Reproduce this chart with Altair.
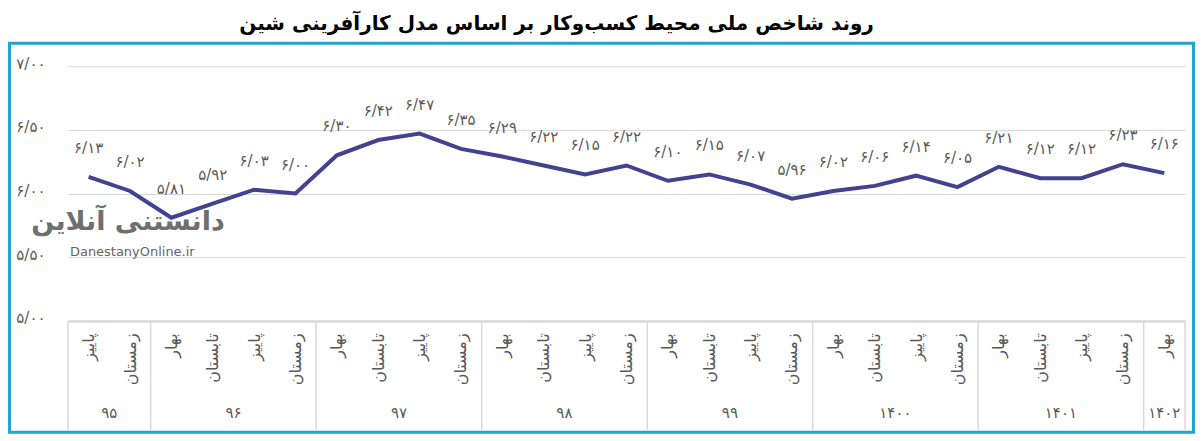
import altair as alt
import pandas as pd

title_text = "روند شاخص ملی محیط کسب\u200cوکار بر اساس مدل کارآفرینی شین"

seasons = [
    "پاییز", "زمستان",
    "بهار", "تابستان", "پاییز", "زمستان",
    "بهار", "تابستان", "پاییز", "زمستان",
    "بهار", "تابستان", "پاییز", "زمستان",
    "بهار", "تابستان", "پاییز", "زمستان",
    "بهار", "تابستان", "پاییز", "زمستان",
    "بهار", "تابستان", "پاییز", "زمستان",
    "بهار",
]
years = [
    "۹۵", "۹۵",
    "۹۶", "۹۶", "۹۶", "۹۶",
    "۹۷", "۹۷", "۹۷", "۹۷",
    "۹۸", "۹۸", "۹۸", "۹۸",
    "۹۹", "۹۹", "۹۹", "۹۹",
    "۱۴۰۰", "۱۴۰۰", "۱۴۰۰", "۱۴۰۰",
    "۱۴۰۱", "۱۴۰۱", "۱۴۰۱", "۱۴۰۱",
    "۱۴۰۲",
]
values = [
    6.13, 6.02,
    5.81, 5.92, 6.03, 6.00,
    6.30, 6.42, 6.47, 6.35,
    6.29, 6.22, 6.15, 6.22,
    6.10, 6.15, 6.07, 5.96,
    6.02, 6.06, 6.14, 6.05,
    6.21, 6.12, 6.12, 6.23,
    6.16,
]
y_ticks = [5.0, 5.5, 6.0, 6.5, 7.0]
y_tick_labels = ["۵/۰۰", "۵/۵۰", "۶/۰۰", "۶/۵۰", "۷/۰۰"]

FA = str.maketrans("0123456789.", "۰۱۲۳۴۵۶۷۸۹/")


def fa(s):
    return s.translate(FA)


n = len(values)
df = pd.DataFrame({
    "i": list(range(n)),
    "season": seasons,
    "year": years,
    "value": values,
    "label": [fa(f"{v:.2f}") for v in values],
})

# year groups
groups = []
start = 0
for k in range(1, n + 1):
    if k == n or years[k] != years[start]:
        groups.append({"year": years[start], "center": (start + k - 1) / 2.0,
                       "lo": start - 0.5, "hi": k - 0.5})
        start = k
df_years = pd.DataFrame(groups)
bounds = sorted(set([g["lo"] for g in groups] + [g["hi"] for g in groups]))
df_sep = pd.DataFrame({"pos": bounds})

W, H = 1118, 255
GRAY = "#595959"
FONT = "DejaVu Sans"

x_scale = alt.Scale(domain=[-0.5, n - 0.5], nice=False, zero=False)
y_scale = alt.Scale(domain=[5, 7], nice=False, zero=False)

season_expr = "[" + ",".join("'" + s + "'" for s in seasons) + "][datum.value]"
y_expr = "{" + ",".join("'%g':'%s'" % (t, l) for t, l in zip(y_ticks, y_tick_labels)) + "}[datum.value]"

x_axis = alt.Axis(
    values=list(range(n)), labelExpr=season_expr, labelAngle=270,
    labelAlign="right", labelBaseline="middle", labelPadding=12,
    labelFontSize=16, labelColor=GRAY, labelFont=FONT, ticks=False,
    grid=False, domainColor="#D9D9D9", domainWidth=2.5, title=None,
    labelOverlap=False, labelFlush=False,
)
y_axis = alt.Axis(
    values=y_ticks, labelExpr=y_expr, labelPadding=23, labelOffset=-3,
    labelFontSize=15, labelColor=GRAY, labelFont=FONT, ticks=False,
    domain=False, grid=True, gridColor="#D9D9D9", gridWidth=1, title=None,
)

one = pd.DataFrame({"a": [0]})

border = alt.Chart(one).mark_rect(
    fillOpacity=0, stroke="#25A3D0", strokeWidth=3
).encode(
    x=alt.value(-58.5), x2=alt.value(1126.5), y=alt.value(-23), y2=alt.value(366.5)
)

line = alt.Chart(df).mark_line(color="#42428F", strokeWidth=4).encode(
    x=alt.X("i:Q", scale=x_scale, axis=x_axis),
    y=alt.Y("value:Q", scale=y_scale, axis=y_axis),
)

labels = alt.Chart(df).mark_text(
    dy=-29, fontSize=15, color=GRAY, font=FONT, baseline="middle", align="center"
).encode(
    x=alt.X("i:Q", scale=x_scale, axis=x_axis),
    y=alt.Y("value:Q", scale=y_scale, axis=y_axis),
    text="label:N",
)

seps = alt.Chart(df_sep).mark_rule(color="#D9D9D9", strokeWidth=1.5).encode(
    x=alt.X("pos:Q", scale=x_scale, axis=x_axis),
    y=alt.value(H), y2=alt.value(364.5),
)

year_text = alt.Chart(df_years).mark_text(
    fontSize=15, color=GRAY, font=FONT, baseline="middle", align="center"
).encode(
    x=alt.X("center:Q", scale=x_scale, axis=x_axis),
    y=alt.value(347),
    text="year:N",
)

wm_logo = alt.Chart(one).mark_text(
    text="دانستنی آنلاین", fontSize=27, fontWeight="bold", color="#5F6062",
    font=FONT, align="right", baseline="alphabetic", opacity=0.9,
).encode(x=alt.value(157), y=alt.value(164))

wm_url = alt.Chart(one).mark_text(
    text="DanestanyOnline.ir", fontSize=13, color="#666666",
    font=FONT, align="left", baseline="alphabetic",
).encode(x=alt.value(2), y=alt.value(190))

chart = alt.layer(
    border, seps, wm_logo, wm_url, line, labels, year_text
).properties(
    width=W, height=H,
    title=alt.TitleParams(
        title_text, fontSize=20, fontWeight="bold", font=FONT, color="black",
        anchor="middle", frame="group", dx=-70, offset=8,
    ),
    autosize=alt.AutoSizeParams(type="none"),
    padding={"left": 60, "top": 58, "right": 10, "bottom": 113},
).configure_view(stroke=None)

chart.save("out.html", embed_options={"renderer": "svg", "actions": False})
